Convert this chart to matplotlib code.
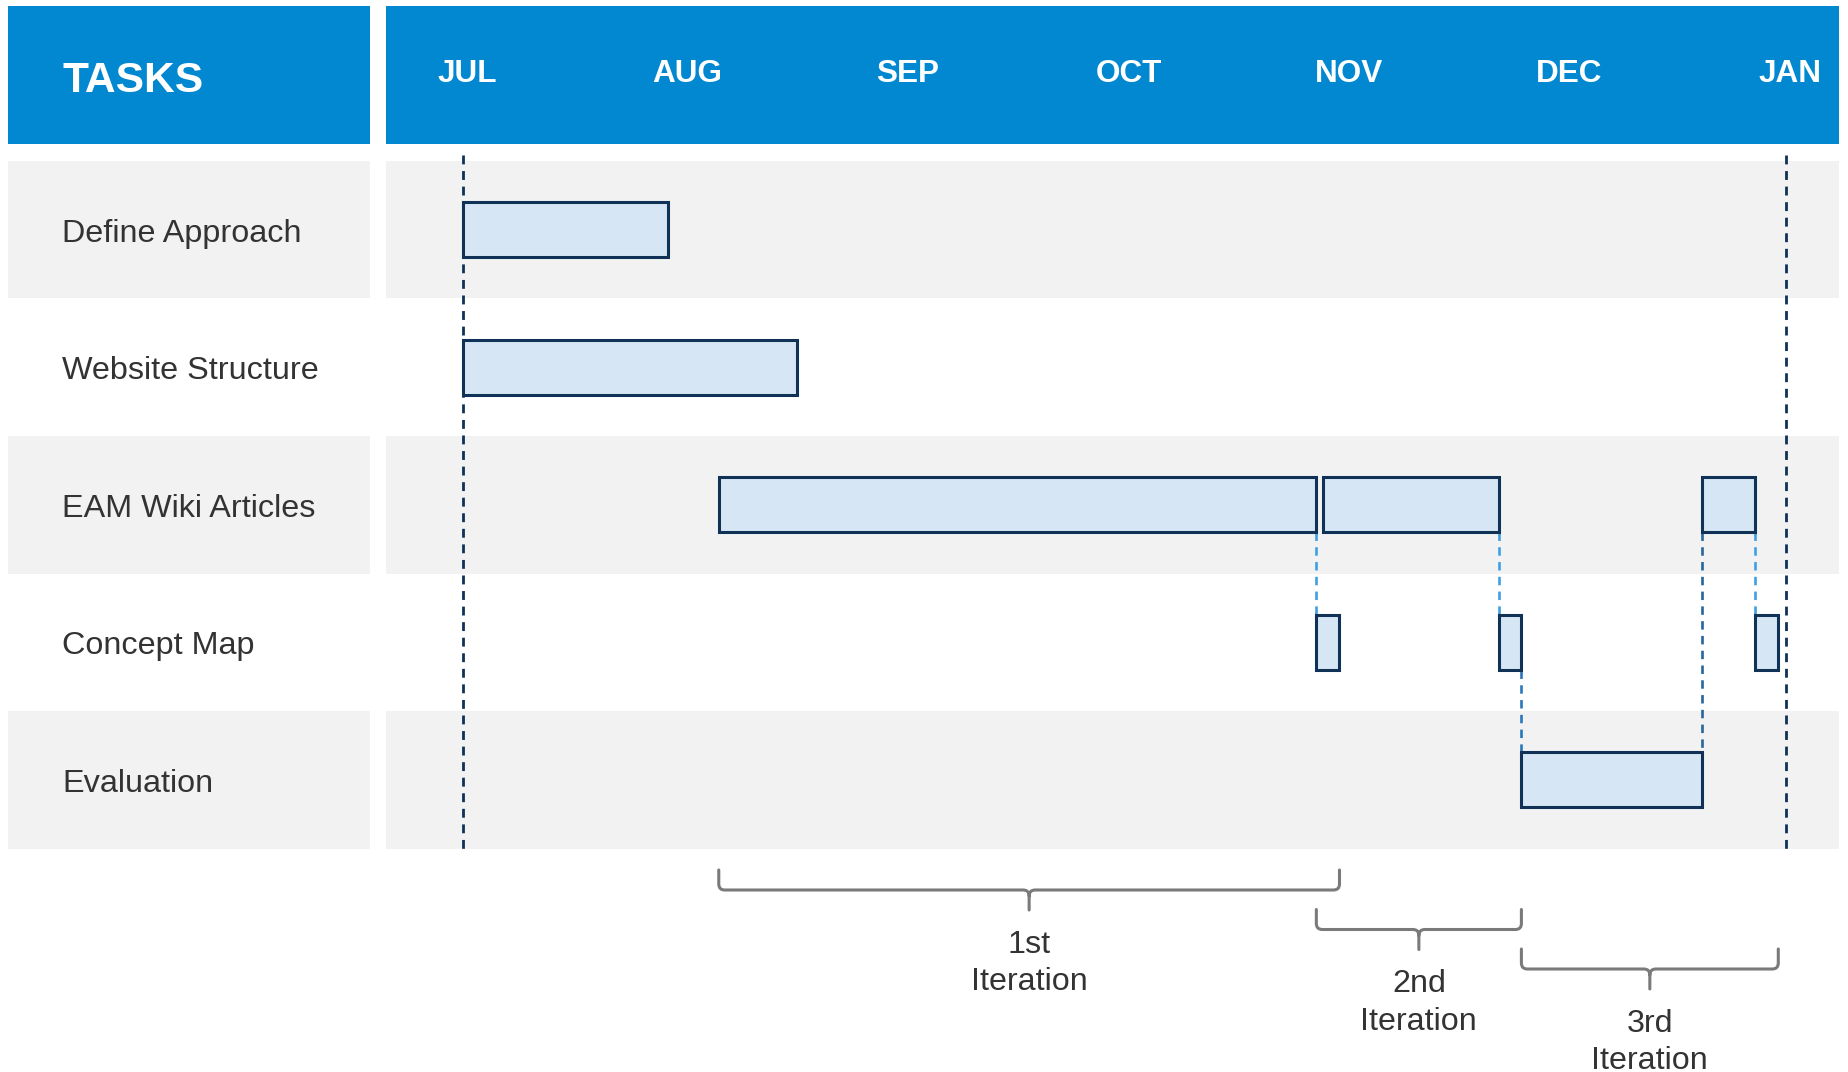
import matplotlib
matplotlib.use("Agg")
import matplotlib.pyplot as plt
from matplotlib.patches import Rectangle, PathPatch
from matplotlib.path import Path

plt.rcParams["font.family"] = ["Liberation Sans", "DejaVu Sans"]

# ---- data ----
months = ["JUL", "AUG", "SEP", "OCT", "NOV", "DEC", "JAN"]
tasks = ["Define Approach", "Website Structure", "EAM Wiki Articles",
         "Concept Map", "Evaluation"]

# bars: task row, start / end in months after JUL
bar_task = [0, 1, 2, 2, 2, 3, 3, 3, 4]
bar_start = [0.0, 0.0, 1.16, 3.90, 5.62, 3.87, 4.70, 5.86, 4.80]
bar_end = [0.93, 1.515, 3.87, 4.70, 5.86, 3.975, 4.80, 5.965, 5.62]

# dependency links: end of bar a -> bar b
link_from = [2, 3, 4, 6, 8]
link_to = [5, 6, 7, 8, 4]
link_color = ["#3d9fe4", "#3d9fe4", "#3d9fe4", "#2b77ba", "#27669c"]

# milestones (dashed navy lines)
milestones = [0, 6]

iter_names = ["1st", "2nd", "3rd"]
iter_start = [1.16, 3.87, 4.80]
iter_end = [3.975, 4.80, 5.965]

# ---- style ----
BLUE = "#0288d1"
BAND = "#f2f2f2"
BAR_FILL = "#d6e6f5"
NAVY = "#0f3256"
TXT = "#333333"
BRACE = "#7a7a7a"

W, H = 1849, 1072
PX_JUL, PX_MONTH = 463, 220.5
PY_ROW0, PY_ROW = 229.5, 137.6


def px(v):
    return (v - PX_JUL) / PX_MONTH


def py(v):
    return (v - PY_ROW0) / PY_ROW


fig = plt.figure(figsize=(W / 100, H / 100), dpi=100)
ax = fig.add_axes([0, 0, 1, 1])
ax.set_xlim(px(0), px(W))
ax.set_ylim(py(H), py(0))
ax.axis("off")

task_x0, task_x1 = px(8), px(370)
chart_x0, chart_x1 = px(386), px(1839)
head_y0, head_y1 = py(6), py(144)

# header
ax.add_patch(Rectangle((task_x0, head_y0), task_x1 - task_x0,
                       head_y1 - head_y0, color=BLUE, lw=0))
ax.add_patch(Rectangle((chart_x0, head_y0), chart_x1 - chart_x0,
                       head_y1 - head_y0, color=BLUE, lw=0))
ax.text(px(62), py(91.5), "TASKS", color="white", fontsize=30.6,
        fontweight="bold", ha="left", va="baseline")
for i, m in enumerate(months):
    ax.text(i + px(467) - px(463), py(81.7), m, color="white", fontsize=22.7,
            fontweight="bold", ha="center", va="baseline")

# row bands and task labels
for i, t in enumerate(tasks):
    if i % 2 == 0:
        ax.add_patch(Rectangle((task_x0, i - 0.5), task_x1 - task_x0, 1,
                               color=BAND, lw=0))
        ax.add_patch(Rectangle((chart_x0, i - 0.5), chart_x1 - chart_x0, 1,
                               color=BAND, lw=0))
    ax.text(px(62), i + 0.088, t, color=TXT, fontsize=23.3,
            ha="left", va="baseline")

# milestone lines
for m in milestones:
    ax.plot([m, m], [py(155), len(tasks) - 0.5], color=NAVY, lw=2.0,
            linestyle=(0, (3.2, 2.4)), zorder=2)

# links
bh = 0.2
for a, b, c in zip(link_from, link_to, link_color):
    x = bar_end[a]
    ya, yb = bar_task[a], bar_task[b]
    if ya < yb:
        y0, y1 = ya + bh, yb - bh
    else:
        y0, y1 = yb + bh, ya - bh
    ax.plot([x, x], [y0, y1], color=c, lw=1.9, linestyle=(0, (3.2, 2.4)),
            zorder=2)

# bars
for r, s, e in zip(bar_task, bar_start, bar_end):
    ax.add_patch(Rectangle((s, r - bh), e - s, 2 * bh, facecolor=BAR_FILL,
                           edgecolor=NAVY, lw=2.2, zorder=3))

# iteration braces
rx, ry = 6 / PX_MONTH, 6 / PY_ROW
depth = 20 / PY_ROW
step = 39.5 / PY_ROW
top0 = py(870)
for k, (name, s, e) in enumerate(zip(iter_names, iter_start, iter_end)):
    yt = top0 + k * step
    yh = yt + depth
    ytip = yh + depth
    xm = (s + e) / 2
    verts = [(s, yt), (s, yh - ry), (s, yh), (s + rx, yh), (xm - rx, yh),
             (xm, yh), (xm, yh + ry), (xm, ytip),
             (xm, yh + ry), (xm, yh), (xm + rx, yh), (e - rx, yh),
             (e, yh), (e, yh - ry), (e, yt)]
    codes = [Path.MOVETO, Path.LINETO, Path.CURVE3, Path.CURVE3, Path.LINETO,
             Path.CURVE3, Path.CURVE3, Path.LINETO,
             Path.MOVETO, Path.CURVE3, Path.CURVE3, Path.LINETO,
             Path.CURVE3, Path.CURVE3, Path.LINETO]
    ax.add_patch(PathPatch(Path(verts, codes), facecolor="none",
                           edgecolor=BRACE, lw=2.2, capstyle="round",
                           joinstyle="round"))
    base = ytip + 43 / PY_ROW
    ax.text(xm, base, name, color=TXT, fontsize=23.2, ha="center",
            va="baseline")
    ax.text(xm, base + 37 / PY_ROW, "Iteration", color=TXT, fontsize=23.2,
            ha="center", va="baseline")

fig.savefig("out.png", dpi=100, facecolor="white")
